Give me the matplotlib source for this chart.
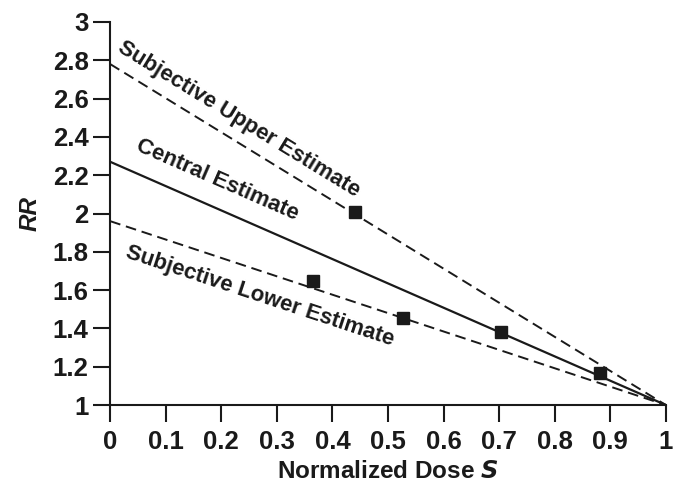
import numpy as np
import matplotlib.pyplot as plt

plt.rcParams['font.family'] = ['Liberation Sans', 'DejaVu Sans']
plt.rcParams['font.weight'] = 'bold'

# line end values at S=0 (all meet at RR=1 for S=1)
upper_start = 2.78
central_start = 2.27
lower_start = 1.96

# data points
pts_x = [0.44, 0.365, 0.527, 0.703, 0.882]
pts_y = [2.01, 1.65, 1.455, 1.38, 1.168]

x_ticks = [0, 0.1, 0.2, 0.3, 0.4, 0.5, 0.6, 0.7, 0.8, 0.9, 1]
y_ticks = [1, 1.2, 1.4, 1.6, 1.8, 2, 2.2, 2.4, 2.6, 2.8, 3]

fig = plt.figure(figsize=(6.76, 4.88), dpi=100)
ax = fig.add_axes([0.163, 0.170, 0.822, 0.785])

s = np.array([0, 1])
dash = (0, (5.5, 3))
ax.plot(s, [upper_start, 1], color='#1a1a1a', lw=1.4, linestyle=dash)
ax.plot(s, [central_start, 1], color='#1a1a1a', lw=1.6)
ax.plot(s, [lower_start, 1], color='#1a1a1a', lw=1.4, linestyle=dash)
ax.plot(pts_x, pts_y, 's', color='#1a1a1a', ms=8, zorder=5)

ax.set_xlim(0, 1)
ax.set_ylim(1, 3)
ax.set_xticks(x_ticks)
ax.set_xticklabels([f'{v:g}' for v in x_ticks])
ax.set_yticks(y_ticks)
ax.set_yticklabels([f'{v:g}' for v in y_ticks])
ax.tick_params(direction='out', length=12, width=1.5, labelsize=18.5, color='#1a1a1a', labelcolor='#1a1a1a')
ax.tick_params(axis='x', pad=6)
for sp in ['top', 'right']:
    ax.spines[sp].set_visible(False)
for sp in ['left', 'bottom']:
    ax.spines[sp].set_linewidth(1.5)
    ax.spines[sp].set_color('#1a1a1a')

ax.set_xlabel('Normalized Dose $\\boldsymbol{S}$', fontsize=17.5, fontweight='bold', color='#1a1a1a', labelpad=4)
ax.set_ylabel('RR', fontsize=17.5, fontweight='bold', style='italic', color='#1a1a1a', labelpad=8)

def angle(y0):
    p0 = ax.transData.transform((0, y0))
    p1 = ax.transData.transform((1, 1))
    return np.degrees(np.arctan2(p1[1] - p0[1], p1[0] - p0[0]))

ax.text(0.231, 2.49, 'Subjective Upper Estimate', rotation=angle(upper_start), ha='center', va='center',
        fontsize=16, fontweight='bold', color='#1a1a1a', rotation_mode='anchor')
ax.text(0.192, 2.175, 'Central Estimate', rotation=angle(central_start), ha='center', va='center',
        fontsize=16, fontweight='bold', color='#1a1a1a', rotation_mode='anchor')
ax.text(0.27, 1.57, 'Subjective Lower Estimate', rotation=angle(lower_start), ha='center', va='center',
        fontsize=16, fontweight='bold', color='#1a1a1a', rotation_mode='anchor')

fig.savefig('out.png', dpi=100)
